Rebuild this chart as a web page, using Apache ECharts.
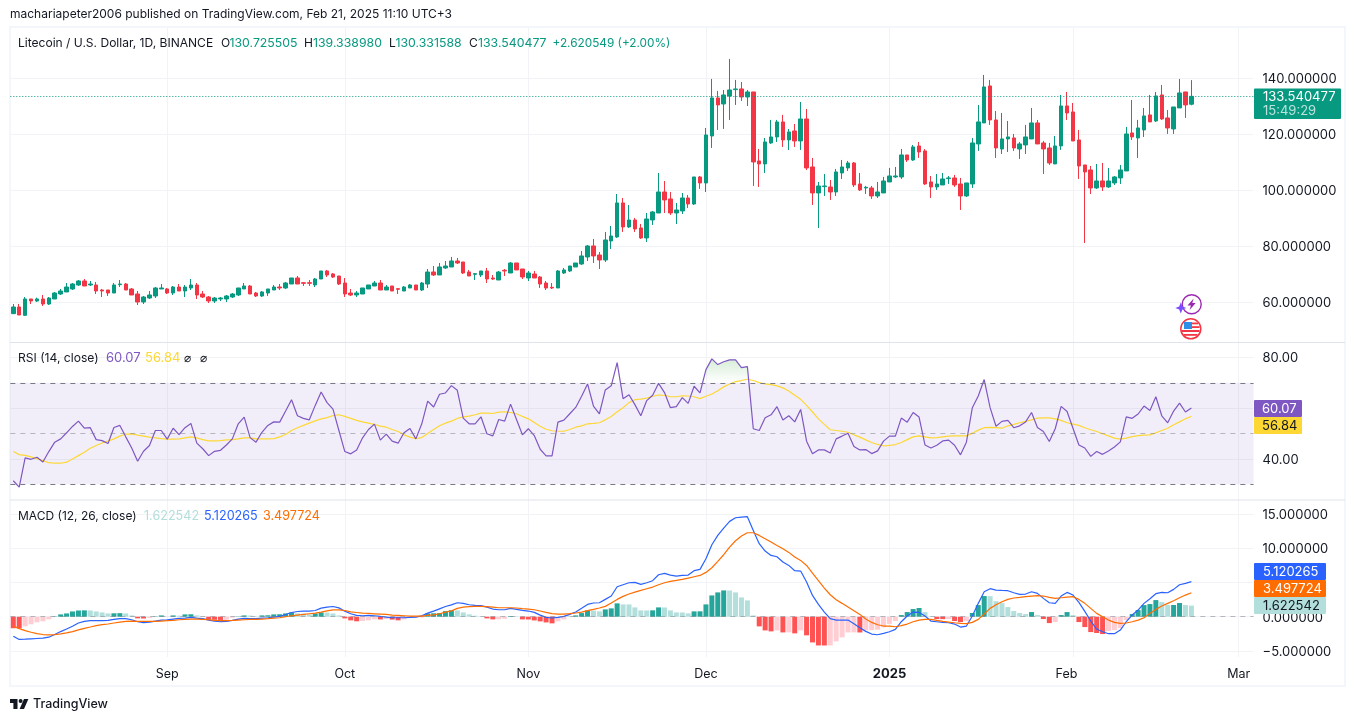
<!DOCTYPE html>
<html><head><meta charset="utf-8">
<script src="https://cdn.jsdelivr.net/npm/echarts@6/dist/echarts.min.js"></script>
<style>html,body{margin:0;padding:0;background:#fff}#c{width:1355px;height:721px}</style>
</head><body><div id="c"></div>
<script>
const opens=[
55.94,58.32,55.34,61.18,60.46,61.18,59.39,61.18,62.96,63.68,
64.75,66.18,67.61,66.18,66.18,64.39,64.39,63.32,66.30,66.53,
64.75,62.96,60.11,61.53,62.25,64.75,64.75,63.32,65.46,64.03,
65.11,66.18,62.96,61.89,60.46,61.18,61.18,61.89,62.61,64.75,
65.82,63.32,62.25,63.32,64.39,65.46,65.11,66.53,68.68,67.00,
67.00,66.18,68.32,71.18,70.11,69.39,66.89,63.32,62.61,62.96,
64.75,65.82,66.89,64.39,65.82,64.87,64.03,65.11,66.18,64.39,
66.53,70.82,69.75,72.25,72.61,74.75,74.39,70.82,69.99,69.75,
71.18,68.68,67.96,71.42,70.46,74.03,71.89,68.68,70.11,69.03,
66.89,65.35,65.11,70.46,71.18,72.61,73.68,76.18,80.11,76.89,
75.11,81.90,83.32,95.47,86.90,89.39,86.54,82.97,89.39,91.89,
99.39,96.90,91.89,92.61,97.25,95.11,104.75,102.61,119.39,132.97,
130.82,133.68,135.94,136.18,133.32,135.11,110.47,109.40,116.90,119.04,
124.39,117.97,121.18,117.61,125.46,108.32,99.04,101.30,101.18,99.39,
106.18,107.97,109.75,102.25,100.82,100.82,97.97,99.04,102.97,104.75,
104.75,112.61,110.82,115.82,114.04,102.97,101.18,101.90,104.16,104.40,
102.25,97.97,102.25,116.54,124.04,137.25,125.11,114.75,118.33,118.68,
114.75,116.18,118.33,124.04,116.90,115.11,109.40,115.83,130.11,127.97,
117.97,109.04,107.25,100.83,103.33,101.18,102.61,104.40,106.90,120.47,
118.68,121.54,126.90,124.75,134.04,125.83,121.90,129.40,135.11,130.73];
const closes=[
58.32,55.46,61.18,60.46,61.18,59.39,61.53,63.32,64.03,65.46,
66.53,67.61,65.82,66.53,64.03,64.03,63.32,66.18,66.53,64.39,
62.61,60.11,61.89,62.61,65.11,65.11,63.32,65.46,64.03,65.46,
66.18,62.61,61.89,60.46,61.53,61.53,62.25,62.96,65.11,65.82,
62.96,62.25,63.68,64.75,65.46,65.11,66.89,68.68,66.53,66.77,
66.77,68.32,71.18,69.75,69.03,66.53,62.96,62.61,63.32,65.11,
66.18,66.89,64.39,65.46,64.03,64.63,65.46,66.18,64.39,66.89,
70.82,69.75,72.61,72.96,74.75,74.03,70.46,69.39,70.23,71.18,
68.32,68.32,70.82,71.18,74.03,71.54,69.03,70.46,68.68,66.53,
65.11,65.11,71.18,71.54,72.96,74.03,76.54,80.11,76.54,75.11,
82.25,83.68,95.47,86.90,89.39,86.18,82.97,89.75,92.25,99.39,
96.54,91.89,92.97,97.25,95.11,104.75,102.61,119.75,132.97,130.47,
134.04,135.82,136.18,133.32,135.11,110.11,109.40,117.25,119.04,124.39,
117.97,120.82,117.61,125.46,107.97,99.04,101.54,101.54,99.39,106.54,
108.32,109.75,101.90,100.11,101.06,97.97,99.39,103.32,105.11,105.11,
112.61,110.82,115.47,113.68,102.25,101.18,102.25,104.04,104.40,101.90,
97.97,102.61,116.90,124.40,136.90,125.11,115.11,118.33,119.04,115.11,
116.54,119.04,124.04,116.54,114.75,109.75,115.83,130.11,127.61,117.61,
108.68,106.54,100.83,103.33,101.18,103.33,104.75,107.25,120.11,119.04,
122.25,126.54,124.40,133.68,125.47,122.25,129.75,134.75,130.47,133.54];
const lows=[
55.82,55.46,55.11,59.39,60.11,58.68,59.03,61.18,62.61,63.68,
64.39,65.82,65.82,65.82,62.96,61.89,62.25,63.32,65.46,64.39,
62.61,59.03,59.39,61.18,61.53,64.75,62.96,62.61,64.03,61.89,
64.39,61.18,61.53,59.75,59.75,60.46,60.11,61.53,62.25,64.75,
62.96,61.89,61.89,62.25,64.39,64.39,64.75,66.53,66.53,65.82,
65.82,65.46,68.32,69.03,68.68,66.18,61.89,62.25,61.89,62.96,
64.75,65.82,64.39,64.39,64.03,62.96,64.03,65.11,64.39,64.03,
65.11,69.39,69.75,71.89,72.61,73.68,70.11,69.39,67.96,69.03,
66.89,67.96,67.96,69.39,70.46,71.54,68.32,67.61,68.68,65.11,
64.39,64.75,65.11,70.11,70.82,72.61,73.32,74.75,74.03,71.89,
74.39,79.04,82.97,85.11,86.54,85.11,82.61,81.54,87.61,91.89,
91.89,91.18,87.97,91.54,93.68,94.75,100.47,99.39,115.11,121.54,
121.90,125.11,130.47,131.90,130.11,101.54,101.18,106.18,116.54,117.25,
115.47,114.40,115.47,114.40,107.25,94.75,86.54,97.97,96.54,97.97,
104.04,106.90,101.18,99.75,98.68,96.90,97.25,99.04,102.97,104.40,
104.04,110.11,110.47,111.54,101.90,97.25,100.11,101.90,102.25,101.18,
92.97,97.61,100.83,114.04,124.04,123.33,111.54,112.97,113.68,114.04,
111.18,112.97,118.33,116.54,105.82,109.04,109.40,114.40,125.11,117.61,
104.04,81.18,98.68,100.47,99.75,100.83,101.90,102.25,106.90,117.97,
111.54,119.04,124.40,124.40,125.11,120.11,120.11,129.40,125.83,130.33];
const highs=[
59.39,59.39,61.89,61.18,61.65,62.61,61.89,63.68,64.75,66.89,
66.89,67.96,68.32,67.61,67.25,64.75,64.39,66.89,67.96,66.89,
65.11,64.03,62.25,64.03,65.46,66.53,65.11,65.82,66.53,66.18,
68.32,66.89,64.03,62.25,61.89,61.89,62.61,63.32,65.11,66.89,
66.18,63.68,64.03,64.75,66.18,66.53,67.25,68.68,69.39,67.25,
67.96,68.68,71.18,71.54,70.46,69.39,68.68,64.75,64.03,65.11,
66.18,67.61,67.96,66.18,65.82,65.11,65.82,66.53,66.18,67.25,
71.89,72.96,74.03,74.75,76.18,75.82,74.39,71.54,70.46,71.18,
72.25,69.75,71.18,71.89,74.39,74.03,71.89,71.18,71.18,69.39,
67.61,66.89,71.54,72.25,72.96,74.03,78.32,80.47,82.61,77.96,
85.11,87.25,98.68,97.25,94.75,90.11,87.97,91.89,92.61,106.18,
103.32,99.39,95.47,99.04,98.32,104.75,105.11,122.25,139.75,135.47,
135.82,146.90,139.40,138.68,135.82,135.11,114.75,118.68,125.11,125.11,
126.90,121.90,123.68,131.54,129.04,111.54,102.97,105.82,103.68,107.61,
110.82,110.47,110.11,106.18,101.54,101.54,102.97,104.75,107.97,108.32,
114.75,112.61,116.18,117.25,114.75,105.11,105.82,106.18,105.11,105.47,
104.40,102.61,118.68,130.47,141.18,139.40,128.32,127.61,124.75,120.11,
117.25,123.33,129.40,125.11,117.61,116.90,119.40,134.04,135.11,131.18,
121.54,109.04,108.68,109.40,109.75,107.97,105.11,109.04,122.61,132.25,
125.11,129.40,134.04,135.11,137.61,128.68,129.75,139.75,135.11,139.34];
const rsi=[
31.4,28.9,40.4,39.85,40.65,38.8,42.9,46.6,47.9,50.3,
52.8,54.9,52.1,52.3,47.6,47.2,46.05,52.4,53.2,48.7,
44.3,39.1,43.0,45.3,51.2,51.2,47.8,52.1,49.6,52.3,
54.0,46.2,44.0,41.3,43.0,43.4,45.5,47.9,53.85,56.5,
48.4,46.6,50.5,53.2,54.6,54.5,58.9,63.35,57.0,56.0,
55.4,61.1,66.4,62.2,59.65,51.2,42.9,42.0,43.55,48.3,
51.6,53.7,47.4,49.75,47.0,46.2,50.3,52.0,47.9,53.85,
62.8,60.45,65.5,66.0,68.9,67.05,56.1,53.85,53.85,56.6,
49.9,49.1,55.55,54.9,61.6,55.55,49.5,51.9,49.2,43.8,
41.2,41.2,54.5,55.3,57.8,60.3,64.7,69.55,60.85,57.8,
67.2,68.8,78.0,63.75,65.3,61.4,57.0,63.0,65.1,69.8,
66.15,60.2,60.6,64.15,61.9,68.65,66.0,75.2,79.45,77.2,
78.3,79.05,79.05,76.0,76.4,51.9,51.2,56.2,57.4,60.6,
55.3,57.0,54.6,59.5,47.0,42.0,43.55,43.55,42.35,47.9,
49.0,50.15,44.9,43.55,43.7,42.1,43.15,47.0,49.0,48.96,
56.1,54.5,58.3,56.5,45.5,44.3,45.4,47.1,47.4,45.4,
41.6,46.6,60.2,64.8,71.3,60.2,52.9,54.8,55.2,52.3,
53.05,54.6,58.3,52.4,50.8,46.85,51.9,60.7,58.7,52.1,
45.5,44.3,41.0,42.9,41.8,43.15,44.7,46.7,56.6,56.0,
57.7,60.85,59.1,64.5,57.0,54.25,58.85,62.0,58.5,60.07];
const rsiMa=[
42.9,41.7,41.4,40.8,40.1,39.3,38.5,38.3,38.3,38.7,
40.0,41.3,42.6,44.2,45.3,46.3,47.0,47.9,49.0,49.8,
49.9,49.4,49.0,48.6,48.3,48.0,47.8,47.8,47.9,48.3,
48.7,48.3,47.6,47.1,47.1,47.2,47.5,47.6,47.9,48.3,
48.3,47.9,47.9,47.9,48.0,48.7,49.6,51.2,52.3,53.2,
54.1,55.0,55.8,56.3,57.1,57.4,56.75,56.0,55.2,54.6,
54.1,53.6,52.9,52.5,51.6,50.8,49.5,48.6,48.0,48.4,
50.0,51.6,53.05,54.1,54.9,55.96,56.6,56.9,57.4,58.07,
58.07,57.9,58.47,58.6,58.3,57.8,56.75,55.8,54.4,52.9,
51.7,51.1,50.9,50.9,51.6,52.5,53.05,53.85,54.0,54.25,
55.4,56.75,58.6,60.2,62.2,63.35,63.6,64.0,64.7,65.2,
65.1,64.5,64.5,64.9,64.8,64.5,63.75,64.7,65.6,66.9,
68.4,69.55,70.5,70.9,71.4,70.9,70.1,69.55,69.3,68.8,
68.0,66.8,65.1,63.5,61.1,58.5,55.8,53.6,51.5,51.2,
50.9,50.5,49.5,48.6,47.5,46.45,45.7,45.1,45.3,45.66,
46.45,47.6,48.7,49.1,48.7,48.3,48.4,48.7,49.0,49.1,
49.1,49.1,50.15,51.35,52.3,52.4,52.3,52.1,53.05,53.6,
54.25,54.8,55.4,56.1,56.2,56.2,55.8,55.2,54.25,53.7,
53.2,52.3,51.5,50.8,49.9,49.1,48.2,47.8,48.2,48.8,
49.2,49.4,49.5,50.3,51.2,52.1,53.45,54.6,55.8,56.84];
const macd=[
-2.84,-3.32,-3.28,-3.23,-3.18,-3.13,-2.99,-2.60,-2.17,-1.79,
-1.40,-0.92,-0.68,-0.58,-0.58,-0.58,-0.54,-0.39,-0.29,-0.29,
-0.44,-0.73,-0.87,-0.78,-0.63,-0.49,-0.44,-0.34,-0.25,-0.20,
-0.10,-0.20,-0.29,-0.49,-0.63,-0.73,-0.68,-0.54,-0.34,-0.25,
-0.29,-0.29,-0.20,-0.15,-0.05,0.04,0.33,0.62,0.76,0.81,
0.81,0.91,1.25,1.39,1.49,1.29,0.81,0.43,0.19,0.14,
0.19,0.14,0.04,-0.05,-0.15,-0.15,-0.15,-0.10,-0.05,0.14,
0.52,0.81,1.15,1.49,1.73,2.04,1.95,1.75,1.65,1.61,
1.41,1.12,1.02,1.02,1.22,1.07,0.92,0.83,0.63,0.24,
-0.10,-0.19,-0.10,0.05,0.34,0.68,1.22,1.80,2.00,2.04,
2.53,3.02,4.38,4.67,4.96,5.01,4.72,4.96,5.26,6.13,
6.33,6.08,5.94,6.03,6.08,6.72,6.91,8.47,10.51,11.87,
12.94,13.92,14.45,14.55,14.60,12.60,10.66,9.59,8.95,8.76,
7.98,7.49,6.72,6.67,5.06,3.11,1.80,0.68,-0.29,-0.49,
-0.49,-0.49,-1.02,-1.61,-2.14,-2.53,-2.63,-2.43,-2.19,-1.85,
-0.73,0.10,0.68,0.63,0.10,-0.63,-0.73,-0.83,-0.88,-1.07,
-1.51,-1.36,0.10,1.95,3.65,4.09,3.89,3.84,3.80,3.50,
3.26,3.31,3.65,3.41,2.68,2.04,1.95,3.02,3.55,3.16,
2.09,0.78,-0.63,-1.80,-2.19,-2.48,-2.48,-1.95,-0.73,0.24,
0.97,1.95,2.63,3.36,3.55,3.50,3.99,4.67,4.87,5.12];
const signal=[
-1.35,-1.74,-2.03,-2.27,-2.46,-2.60,-2.65,-2.60,-2.51,-2.36,
-2.17,-1.93,-1.69,-1.50,-1.30,-1.16,-1.06,-0.92,-0.78,-0.68,
-0.63,-0.68,-0.68,-0.68,-0.68,-0.63,-0.58,-0.54,-0.44,-0.39,
-0.34,-0.34,-0.39,-0.44,-0.54,-0.58,-0.58,-0.54,-0.49,-0.44,
-0.39,-0.39,-0.34,-0.29,-0.20,-0.15,0.00,0.14,0.24,0.33,
0.43,0.52,0.67,0.86,1.00,1.00,0.91,0.72,0.62,0.52,
0.48,0.43,0.38,0.33,0.24,0.19,0.14,0.09,0.09,0.09,
0.19,0.28,0.43,0.67,0.86,1.22,1.41,1.46,1.51,1.51,
1.46,1.41,1.31,1.31,1.31,1.27,1.17,1.12,1.02,0.83,
0.63,0.44,0.39,0.39,0.44,0.54,0.68,0.88,1.07,1.27,
1.51,2.00,2.53,2.97,3.31,3.60,3.84,4.09,4.33,4.67,
4.96,5.16,5.30,5.45,5.64,5.84,6.03,6.47,7.15,8.08,
9.05,10.17,11.09,11.78,12.26,12.26,11.87,11.39,10.90,10.41,
9.93,9.39,8.71,8.22,7.49,6.37,5.26,4.18,3.21,2.48,
1.95,1.41,0.88,0.34,-0.34,-0.83,-1.17,-1.36,-1.36,-1.46,
-1.31,-1.07,-0.73,-0.49,-0.39,-0.39,-0.54,-0.68,-0.78,-0.88,
-0.97,-1.02,-0.83,-0.39,0.39,1.22,1.75,2.19,2.53,2.73,
2.82,2.92,3.02,3.07,3.02,2.82,2.68,2.77,2.87,2.92,
2.53,1.95,1.22,0.49,0.00,-0.49,-0.83,-0.97,-0.92,-0.73,
-0.49,-0.15,0.49,1.07,1.56,1.95,2.34,2.77,3.16,3.50];
const hist=[
-1.68,-1.70,-1.40,-1.11,-0.82,-0.67,-0.38,0.05,0.34,0.48,
0.77,0.91,0.93,0.91,0.77,0.63,0.48,0.50,0.52,0.48,
0.19,-0.24,-0.26,-0.19,0.05,0.19,0.05,0.19,0.15,0.34,
0.36,0.19,0.05,-0.43,-0.45,-0.47,-0.43,-0.14,0.05,0.19,
0.17,0.05,0.19,0.21,0.34,0.36,0.48,0.63,0.48,0.46,
0.34,0.48,0.63,0.61,0.48,0.19,-0.24,-0.53,-0.67,-0.62,
-0.53,-0.38,-0.40,-0.34,-0.42,-0.53,-0.38,-0.14,-0.13,-0.12,
0.48,0.50,0.52,0.82,0.95,0.92,0.63,0.34,0.15,0.05,
-0.24,-0.39,-0.38,-0.29,0.10,0.05,-0.39,-0.40,-0.54,-0.68,
-0.83,-0.97,-0.68,-0.39,0.03,0.19,0.53,0.92,0.90,0.78,
1.07,1.22,1.95,1.80,1.79,1.36,0.92,0.91,0.93,1.36,
1.35,0.92,0.63,0.62,0.49,0.78,0.79,1.80,3.11,3.55,
3.84,3.83,3.55,2.82,2.38,0.19,-1.41,-2.00,-2.14,-2.00,
-2.29,-2.28,-2.43,-2.00,-2.72,-3.75,-4.19,-4.20,-4.19,-3.60,
-3.02,-2.29,-2.28,-2.30,-2.00,-1.97,-1.90,-1.55,-1.05,-0.63,
0.24,0.68,1.12,1.27,0.68,0.05,-0.34,-0.35,-0.33,-0.63,
-0.78,-0.62,0.54,1.70,3.02,3.00,2.27,1.99,1.41,0.83,
0.54,0.39,0.68,0.24,-0.34,-0.93,-0.78,0.24,0.68,0.24,
-0.78,-1.51,-2.24,-2.38,-2.53,-2.09,-1.95,-1.65,-0.49,0.39,
0.97,1.70,1.85,2.43,2.14,1.70,1.71,2.00,1.70,1.62];
const tickDates=['2024-09-01','2024-10-01','2024-11-01','2024-12-01','2025-01-01','2025-02-01','2025-03-01'];
const tickLabels=['Sep','Oct','Nov','Dec','2025','Feb','Mar'];
const priceTicks=[60,80,100,120,140];
const rsiLabelTicks=[40,80];
const rsiGridTicks=[40,60,80];
const macdTicks=[-5,0,5,10,15];

// one category per day; the axis runs on past the last candle, as in the reference
const dates=[];
for(let i=0;i<210;i++){dates.push(new Date(Date.UTC(2024,7,6+i)).toISOString().slice(0,10));}
const candles=opens.map((o,i)=>[o,closes[i],lows[i],highs[i]]);
const GREEN='#089981',RED='#F23645',INK='#131722',GRID='#F2F3F6',FONT='Inter, "Noto Sans", sans-serif';
const chart=echarts.init(document.getElementById('c'),null,{renderer:'canvas'});
const isTick=(i,v)=>tickDates.includes(v);
const fmt6=v=>'{a|'+(v<0?'\u2212':'')+Math.abs(v).toFixed(6)+'}';
const fmt2=v=>'{a|'+v.toFixed(2)+'}';
const gl={left:10.34,right:101.46};
const xAxisBase=(idx,showLabel)=>({type:'category',gridIndex:idx,data:dates,boundaryGap:true,
  axisLine:{show:false},axisTick:{show:false},
  splitLine:{show:true,alignWithLabel:true,interval:isTick,lineStyle:{color:GRID,width:1}},
  axisLabel:{show:showLabel,interval:isTick,margin:11,color:INK,fontFamily:FONT,fontSize:12.5,hideOverlap:false,
    formatter:v=>{const l=tickLabels[tickDates.indexOf(v)];return l==='2025'?'{b|2025}':l==='Feb'?'{f|Feb}':l;},
    rich:{b:{fontWeight:700,fontFamily:FONT,fontSize:13,color:INK},f:{fontFamily:FONT,fontSize:12.5,color:INK,padding:[0,13,0,0]}}}});
const yAxisBase=(idx,min,max,labels,grids,f)=>({type:'value',gridIndex:idx,position:'right',min,max,scale:true,
  axisLine:{show:false},axisTick:{show:false,customValues:grids},
  splitLine:{show:true,lineStyle:{color:GRID,width:1}},
  axisLabel:{customValues:labels,formatter:f,margin:9,color:INK,fontFamily:FONT,fontSize:13,showMinLabel:true,showMaxLabel:true,
    rich:{a:{fontFamily:FONT,fontSize:13,color:INK,padding:[2,0,0,0]}}}});

const txt=(x,y,text,fill,size,weight)=>({type:'text',x,y,z:200,silent:true,
  style:{text,fill,font:(weight||400)+' '+(size||13)+'px '+FONT,verticalAlign:'middle',align:'left'}});
const tag=(x,y,w,h,fill)=>({type:'rect',z:190,silent:true,shape:{x,y,width:w,height:h,r:1},style:{fill}});
const g=[
  {type:'rect',z:1,silent:true,shape:{x:10,y:27,width:1335,height:659},style:{fill:'none',stroke:'#F0F3FA',lineWidth:1.5}},
  {type:'line',z:1,silent:true,shape:{x1:10,y1:342.5,x2:1345,y2:342.5},style:{stroke:'#E0E3EB',lineWidth:1}},
  {type:'line',z:1,silent:true,shape:{x1:10,y1:500,x2:1345,y2:500},style:{stroke:'#E0E3EB',lineWidth:1}},
  txt(10,14,'machariapeter2006 published on TradingView.com, Feb 21, 2025 11:10 UTC+3',INK,12),
  txt(18,43,'Litecoin / U.S. Dollar, 1D, BINANCE',INK,12.05),
  txt(221,43,'O',INK,12),txt(229.5,43,'130.725505',GREEN,12.3),
  txt(304,43,'H',INK,12),txt(313,43,'139.338980',GREEN,12.3),
  txt(389,43,'L',INK,12),txt(395.5,43,'130.331588',GREEN,12.3),
  txt(469,43,'C',INK,12),txt(478,43,'133.540477',GREEN,12.3),
  txt(552.5,43,'+2.620549 (+2.00%)',GREEN,11.8),
  txt(18,358.5,'RSI (14, close)',INK,12.1),
  txt(106,358.5,'60.07','#7E57C2',13),txt(145,358.5,'56.84','#FDD835',13),
  txt(184,358.5,'\u2300',INK,12),txt(200,358.5,'\u2300',INK,12),
  txt(18,516.5,'MACD (12, 26, close)',INK,12),
  txt(144,516.5,'1.622542','#B2DFDB',12.6),txt(204,516.5,'5.120265','#2962FF',12.6),txt(263,516.5,'3.497724','#FF6D00',12.6),
  tag(1254,88.5,87,30.5,GREEN),txt(1263,97,'133.540477','#FFFFFF',13),txt(1263,111,'15:49:29','rgba(255,255,255,0.72)',13),
  tag(1254,400,48,17,'#7E57C2'),txt(1262,408.7,'60.07','#FFFFFF',13),
  tag(1254,417,48,17,'#FDD835'),txt(1262,425.7,'56.84',INK,13),
  tag(1254,563,72,17,'#2962FF'),txt(1263,571.7,'5.120265','#FFFFFF',13),
  tag(1254,580,72,17,'#FF6D00'),txt(1263,588.7,'3.497724','#FFFFFF',13),
  tag(1254,597,72,17,'#B2DFDB'),txt(1263,605.7,'1.622542',INK,13),
  // news / event icons
  {type:'circle',z:150,silent:true,shape:{cx:1191.7,cy:304.3,r:9.5},style:{fill:'#fff',stroke:'#9C27B0',lineWidth:1.4}},
  {type:'polygon',z:151,silent:true,shape:{points:[[1193.6,298.5],[1187.5,305.5],[1190.9,305.5],[1189.6,310],[1195.7,303],[1192.3,303]]},style:{fill:'#9C27B0'}},
  {type:'polygon',z:152,silent:true,shape:{points:[[1180.8,302.5],[1182.4,306.4],[1186.3,308],[1182.4,309.6],[1180.8,313.5],[1179.2,309.6],[1175.3,308],[1179.2,306.4]]},style:{fill:'#7C4DFF'}},
  {type:'circle',z:150,silent:true,shape:{cx:1190.8,cy:328.8,r:10},style:{fill:'#fff',stroke:'#F23645',lineWidth:1.5}},
  {type:'rect',z:151,silent:true,shape:{x:1184,y:322,width:8,height:7},style:{fill:'#2E8FE6'}},
  {type:'rect',z:151,silent:true,shape:{x:1192,y:322.5,width:6,height:1.8},style:{fill:'#F23645'}},
  {type:'rect',z:151,silent:true,shape:{x:1192,y:326.2,width:7.5,height:1.8},style:{fill:'#F23645'}},
  {type:'rect',z:151,silent:true,shape:{x:1182,y:330,width:17.5,height:2},style:{fill:'#F23645'}},
  {type:'rect',z:151,silent:true,shape:{x:1184,y:334,width:13.5,height:1.8},style:{fill:'#F23645'}},
  // TradingView mark
  {type:'polygon',z:150,silent:true,shape:{points:[[10,699],[17.5,699],[17.5,709],[13.4,709],[13.4,703],[10,703]]},style:{fill:INK}},
  {type:'circle',z:150,silent:true,shape:{cx:20.6,cy:701,r:2},style:{fill:INK}},
  {type:'polygon',z:150,silent:true,shape:{points:[[24,699],[28.4,699],[24,709],[19.6,709]]},style:{fill:INK}},
  txt(33,704.5,'TradingView',INK,12.5,500)
];
chart.setOption({
  animation:false,backgroundColor:'#fff',
  grid:[
    {...gl,top:27,height:315.5},
    {...gl,top:343,height:157},
    {...gl,top:500,height:157}],
  xAxis:[xAxisBase(0,false),xAxisBase(1,false),xAxisBase(2,true)],
  yAxis:[
    yAxisBase(0,45.64,158.3,priceTicks,priceTicks,fmt6),
    yAxisBase(1,23.8,85.7,rsiLabelTicks,rsiGridTicks,fmt2),
    yAxisBase(2,-5.88,17.04,macdTicks,macdTicks,fmt6)],
  graphic:g,
  series:[
    {type:'candlestick',name:'LTCUSD',xAxisIndex:0,yAxisIndex:0,data:candles,barWidth:4,
      itemStyle:{color:GREEN,color0:RED,borderColor:GREEN,borderColor0:RED,borderWidth:1},
      markLine:{silent:true,symbol:'none',animation:false,label:{show:false},
        lineStyle:{color:GREEN,type:[1,2],width:1},data:[{yAxis:closes[closes.length-1]}]}},
    {type:'line',name:'RSI band',xAxisIndex:1,yAxisIndex:1,data:rsi.map(v=>v>70?v:null),showSymbol:false,symbol:'none',
      lineStyle:{width:0,opacity:0},connectNulls:false,z:1,
      areaStyle:{origin:70,color:{type:'linear',x:0,y:0,x2:0,y2:1,colorStops:[{offset:0,color:'rgba(76,175,80,0.32)'},{offset:1,color:'rgba(76,175,80,0)'}]}}},
    {type:'line',name:'RSI',xAxisIndex:1,yAxisIndex:1,data:rsi,showSymbol:false,symbol:'none',z:4,
      lineStyle:{color:'#7E57C2',width:1.2},
      markArea:{silent:true,itemStyle:{color:'rgba(126,87,194,0.1)'},data:[[{yAxis:70},{yAxis:30}]]},
      markLine:{silent:true,symbol:'none',animation:false,label:{show:false},data:[
        {yAxis:70,lineStyle:{color:'#787B86',type:[5,5],width:1}},
        {yAxis:50,lineStyle:{color:'rgba(120,123,134,0.5)',type:[5,5],width:1}},
        {yAxis:30,lineStyle:{color:'#787B86',type:[5,5],width:1}}]}},
    {type:'line',name:'RSI MA',xAxisIndex:1,yAxisIndex:1,data:rsiMa,showSymbol:false,symbol:'none',z:3,
      lineStyle:{color:'#FDD835',width:1.2}},
    {type:'bar',name:'Histogram',xAxisIndex:2,yAxisIndex:2,data:hist,barWidth:5,z:2,
      itemStyle:{color:p=>{const v=hist[p.dataIndex],prev=p.dataIndex?hist[p.dataIndex-1]:v;
        return v>=0?(v>=prev?'#26A69A':'#B2DFDB'):(v<prev||p.dataIndex===0?'#FF5252':'#FFCDD2');}},
      markLine:{silent:true,symbol:'none',animation:false,label:{show:false},
        lineStyle:{color:'rgba(120,123,134,0.5)',type:[5,5],width:1},data:[{yAxis:0}]}},
    {type:'line',name:'MACD',xAxisIndex:2,yAxisIndex:2,data:macd,showSymbol:false,symbol:'none',z:4,lineStyle:{color:'#2962FF',width:1.2}},
    {type:'line',name:'Signal',xAxisIndex:2,yAxisIndex:2,data:signal,showSymbol:false,symbol:'none',z:5,lineStyle:{color:'#FF6D00',width:1.2}}
  ]
});
</script></body></html>
